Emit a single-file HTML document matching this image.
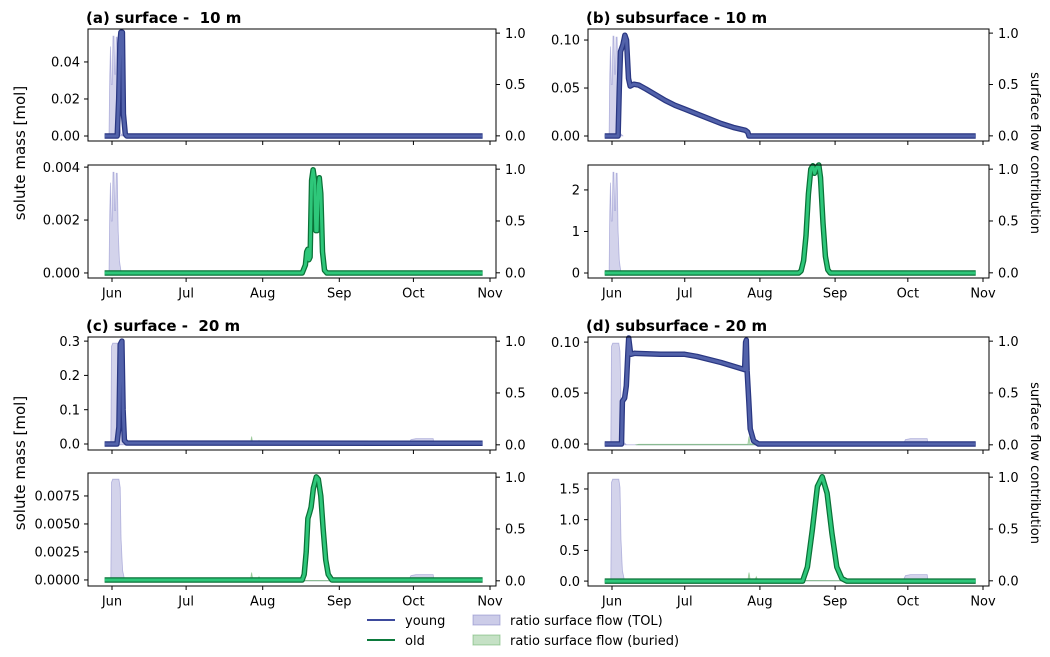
<!DOCTYPE html>
<html><head><meta charset="utf-8">
<style>
body{margin:0;background:#fff;}
svg{display:block;font-family:"DejaVu Sans","Liberation Sans",sans-serif;}
text{white-space:pre;}
</style></head>
<body>
<svg id="chart" width="1050" height="657" viewBox="0 0 1050 657" xmlns="http://www.w3.org/2000/svg"></svg>
<script>
// ---- data ----
const monthLabels = ["Jun","Jul","Aug","Sep","Oct","Nov"];
const monthDays = [0,30,61,92,122,153];
const tol10 = [[-1.2,0],[-0.9,0.6],[-0.6,0.87],[-0.3,0.5],[0.1,0.5],[0.4,0.97],[0.8,0.97],[1.1,0.6],[1.4,0.6],[1.7,0.96],[2.1,0.96],[2.5,0.4],[3.0,0.12],[3.6,0.02],[4.5,0]];
const tol20 = [[-0.5,0],[-0.2,0.95],[0.3,0.98],[0.8,0.98],[1.3,0.98],[1.8,0.98],[2.3,0.98],[2.8,0.98],[3.3,0.9],[3.7,0.4],[4.3,0.1],[5,0.02],[6,0],[120,0],[121,0.05],[123,0.06],[130,0.06],[130.3,0]];
const buried10 = [[58,0],[59,0.01],[62,0.005],[63,0.02],[64,0.01],[70,0.01],[72,0.015],[74,0.005],[75,0]];
const buried20 = [[10,0],[11,0.005],[56,0.005],[56.5,0.08],[57,0.01],[59,0.01],[59.5,0.04],[60,0.01],[68,0.01],[72,0.005],[95,0.003],[96,0]];
const youngA = [[-3,0],[2.1,0],[2.7,0.02],[3.2,0.05],[3.6,0.056],[4.2,0.056],[4.6,0.012],[5.4,0.001],[6,0],[150,0]];
const oldA = [[-3,0],[77,0],[78.3,0.0003],[78.8,0.0008],[79.3,0.0009],[79.7,0.0005],[80.2,0.0006],[80.8,0.0035],[81.4,0.0039],[82,0.0035],[82.5,0.0016],[83,0.0016],[83.5,0.0033],[83.9,0.0036],[84.5,0.003],[85.2,0.0008],[86,0.0001],[87,0],[150,0]];
const youngB = [[-3,0],[2.5,0],[3,0.05],[3.5,0.088],[4.5,0.095],[5.3,0.105],[6,0.1],[6.8,0.06],[7.5,0.052],[9,0.054],[11,0.053],[14,0.049],[18,0.043],[22,0.037],[26,0.032],[30,0.028],[35,0.023],[40,0.018],[45,0.013],[50,0.009],[55,0.006],[56,0.004],[56.5,0],[150,0]];
const oldB = [[-3,0],[77,0],[78,0.05],[79,0.3],[80,0.9],[81,1.9],[82,2.5],[82.8,2.58],[83.5,2.4],[84.5,2.55],[85.3,2.6],[86,2.3],[87,1.2],[88,0.4],[89,0.08],[90,0],[150,0]];
const youngC = [[-3,0],[2,0],[2.8,0.05],[3.3,0.29],[4,0.3],[4.5,0.1],[5,0.01],[6,0.003],[150,0.002]];
const oldC = [[-3,0],[77,0],[77.8,0.0005],[78.6,0.0025],[79.3,0.0055],[80,0.006],[80.6,0.0065],[81.5,0.0082],[82.7,0.0092],[83.5,0.009],[84.5,0.0075],[85.5,0.0045],[86.5,0.0018],[87.5,0.0005],[89,0],[150,0]];
const youngD = [[-3,0],[3.9,0],[4.3,0.042],[5.2,0.045],[5.9,0.057],[6.6,0.092],[6.9,0.104],[7.7,0.088],[9.3,0.089],[20,0.088],[30,0.088],[35,0.086],[45,0.08],[54.7,0.073],[55.1,0.1],[55.4,0.102],[55.7,0.072],[56.4,0.042],[57,0.015],[58.4,0.003],[60.4,0],[150,0]];
const oldD = [[-3,0],[78.6,0],[80.6,0.23],[82.6,0.83],[84.7,1.54],[86.7,1.7],[88.7,1.43],[90.7,0.78],[92.7,0.23],[94.8,0.04],[96.8,0],[150,0]];
const leftTicksA1 = [0,0.02,0.04], leftLabA1 = ["0.00","0.02","0.04"];
const leftTicksA2 = [0,0.002,0.004], leftLabA2 = ["0.000","0.002","0.004"];
const leftTicksB1 = [0,0.05,0.1], leftLabB1 = ["0.00","0.05","0.10"];
const leftTicksB2 = [0,1,2], leftLabB2 = ["0","1","2"];
const leftTicksC1 = [0,0.1,0.2,0.3], leftLabC1 = ["0.0","0.1","0.2","0.3"];
const leftTicksC2 = [0,0.0025,0.005,0.0075], leftLabC2 = ["0.0000","0.0025","0.0050","0.0075"];
const leftTicksD1 = [0,0.05,0.1], leftLabD1 = ["0.00","0.05","0.10"];
const leftTicksD2 = [0,0.5,1,1.5], leftLabD2 = ["0.0","0.5","1.0","1.5"];
const rightTicks = [0,0.5,1], rightLab = ["0.0","0.5","1.0"];

const NS="http://www.w3.org/2000/svg";
const svg=document.getElementById('chart');
function mk(tag,attrs,parent){const e=document.createElementNS(NS,tag);for(const k in attrs)e.setAttribute(k,attrs[k]);(parent||svg).appendChild(e);return e;}

const panels=[
 {name:'a-young',x0:88,x1:496,y0:29,y1:141,lo:-0.0027,hi:0.0578,lt:leftTicksA1,ll:leftLabA1,series:youngA,kind:'young',tol:tol10,bur:buried10,xl:false,title:'(a) surface -  10 m'},
 {name:'a-old',x0:88,x1:496,y0:165,y1:278,lo:-0.00019,hi:0.00408,lt:leftTicksA2,ll:leftLabA2,series:oldA,kind:'old',tol:tol10,bur:buried10,xl:true},
 {name:'b-young',x0:588,x1:989,y0:29,y1:141,lo:-0.0052,hi:0.1115,lt:leftTicksB1,ll:leftLabB1,series:youngB,kind:'young',tol:tol10,bur:buried10,xl:false,title:'(b) subsurface - 10 m'},
 {name:'b-old',x0:588,x1:989,y0:165,y1:278,lo:-0.12,hi:2.6,lt:leftTicksB2,ll:leftLabB2,series:oldB,kind:'old',tol:tol10,bur:buried10,xl:true},
 {name:'c-young',x0:88,x1:496,y0:337,y1:450,lo:-0.0175,hi:0.312,lt:leftTicksC1,ll:leftLabC1,series:youngC,kind:'young',tol:tol20,bur:buried20,xl:false,title:'(c) surface -  20 m'},
 {name:'c-old',x0:88,x1:496,y0:473,y1:586,lo:-0.00054,hi:0.00955,lt:leftTicksC2,ll:leftLabC2,series:oldC,kind:'old',tol:tol20,bur:buried20,xl:true},
 {name:'d-young',x0:588,x1:989,y0:337,y1:450,lo:-0.0059,hi:0.105,lt:leftTicksD1,ll:leftLabD1,series:youngD,kind:'young',tol:tol20,bur:buried20,xl:false,title:'(d) subsurface - 20 m'},
 {name:'d-old',x0:588,x1:989,y0:473,y1:586,lo:-0.08,hi:1.76,lt:leftTicksD2,ll:leftLabD2,series:oldD,kind:'old',tol:tol20,bur:buried20,xl:true},
];
const colors={young:{outer:'#2a3782',inner:'#5262aa'},old:{outer:'#0b7238',inner:'#2ec77a'}};

panels.forEach(p=>{
  const g=mk('g',{});
  
  
  const jx=p.x0+24, nx=p.x1-6;
  const X=d=>jx+(nx-jx)*d/153;
  const Y=v=>p.y1-(v-p.lo)/(p.hi-p.lo)*(p.y1-p.y0);
  const R=v=>p.y1-(v+0.05)/1.09*(p.y1-p.y0);
  const ptsArea=(arr)=>{let s='M'+X(arr[0][0])+','+R(0);arr.forEach(q=>s+=' L'+X(q[0]).toFixed(1)+','+R(q[1]).toFixed(1));s+=' L'+X(arr[arr.length-1][0])+','+R(0)+'Z';return s;};
  const tolA=mk('path',{d:ptsArea(p.tol),fill:'rgba(110,110,190,0.3)',stroke:'rgba(110,110,190,0.45)','stroke-width':0.8},g);
  
  
  const burA=mk('path',{d:ptsArea(p.bur),fill:'rgba(90,170,90,0.35)',stroke:'rgba(90,170,90,0.5)','stroke-width':0.8},g);
  
  
  let d='';p.series.forEach((q,i)=>d+=(i?' L':'M')+X(q[0]).toFixed(1)+','+Y(q[1]).toFixed(1));
  const c=colors[p.kind];
  const o=mk('path',{d:d,fill:'none',stroke:c.outer,'stroke-width':5.5,'stroke-linejoin':'round','stroke-linecap':'butt'},g);
  
  
  const l=mk('path',{d:d,fill:'none',stroke:c.inner,'stroke-width':3,'stroke-linejoin':'round','stroke-linecap':'butt'},g);
  
  
  const fr=mk('rect',{x:p.x0,y:p.y0,width:p.x1-p.x0,height:p.y1-p.y0,fill:'none',stroke:'#000','stroke-width':1},g);
  
  
  p.lt.forEach((t,i)=>{
    const y=Y(t);
    mk('line',{x1:p.x0-4,x2:p.x0,y1:y,y2:y,stroke:'#000'},g);
    const tx=mk('text',{x:p.x0-8,y:y+4.7,'font-size':13,'text-anchor':'end'},g);tx.textContent=p.ll[i];
    
    
  });
  rightTicks.forEach((t,i)=>{
    const y=R(t);
    mk('line',{x1:p.x1,x2:p.x1+4,y1:y,y2:y,stroke:'#000'},g);
    const tx=mk('text',{x:p.x1+9,y:y+4.7,'font-size':13},g);tx.textContent=rightLab[i];
    
    
  });
  monthDays.forEach((m,i)=>{
    const x=X(m);
    mk('line',{x1:x,x2:x,y1:p.y1,y2:p.y1+4,stroke:'#000'},g);
    if(p.xl){const tx=mk('text',{x:x,y:p.y1+19.5,'font-size':13,'text-anchor':'middle'},g);tx.textContent=monthLabels[i];
      
      }
  });
  if(p.title){const t=mk('text',{x:p.x0-2,y:p.y0-6,'font-size':15,'font-weight':'bold'},g);t.textContent=p.title;
    
    }
});
[153,463].forEach(cy=>{
  const t=mk('text',{x:0,y:0,'font-size':15,'text-anchor':'middle',transform:'translate(25,'+cy+') rotate(-90)'});t.textContent='solute mass [mol]';
  
  
  const r=mk('text',{x:0,y:0,'font-size':13,'text-anchor':'middle',transform:'translate(1031,'+cy+') rotate(90)'});r.textContent='surface flow contribution';
  
  
});
// legend
const lg=mk('g',{});


mk('line',{x1:367,x2:395,y1:620,y2:620,stroke:'#3d4a9c','stroke-width':2},lg);
mk('line',{x1:367,x2:395,y1:640,y2:640,stroke:'#0c7a3c','stroke-width':2},lg);
mk('rect',{x:473,y:615,width:27,height:10,fill:'rgba(110,110,190,0.35)',stroke:'rgba(110,110,190,0.45)'},lg);
mk('rect',{x:473,y:635,width:27,height:10,fill:'rgba(90,170,90,0.35)',stroke:'rgba(90,170,90,0.5)'},lg);
[['young',405,625],['old',405,645],['ratio surface flow (TOL)',510,625],['ratio surface flow (buried)',510,645]].forEach(a=>{
  const t=mk('text',{x:a[1],y:a[2],'font-size':13},lg);t.textContent=a[0];
  
  
});
</script>
</body></html>
